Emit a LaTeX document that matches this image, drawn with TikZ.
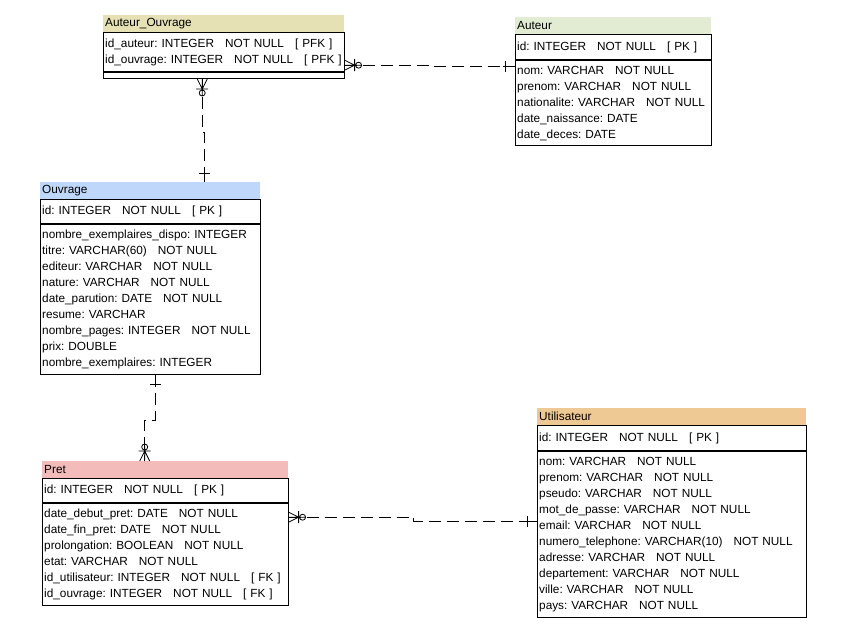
\documentclass[tikz,border=0pt]{standalone}
\usepackage{fontspec}
\setmainfont{Liberation Sans}
\usetikzlibrary{positioning, calc}
\definecolor{aohead}{HTML}{E5E1B5}
\definecolor{authead}{HTML}{E1ECD3}
\definecolor{ouvhead}{HTML}{BFD7FB}
\definecolor{prethead}{HTML}{F4BBBB}
\definecolor{utihead}{HTML}{EFC994}
\newcommand{\colgap}{\hspace{11pt}}
\tikzset{%
	every node/.style={font=\fontsize{11.8}{16}\selectfont, execute at begin node=\frenchspacing},
	head/.style={rectangle, inner xsep=2pt, inner ysep=0pt, minimum height=17pt, align=left},
	keys/.style={draw, rectangle, line width=0.8pt, inner xsep=2pt, inner ysep=1pt, align=left},
	rel/.style={draw, line width=0.8pt, dash pattern=on 12pt off 6pt},
	manyopt/.pic={\draw[solid, line width=0.8pt] (0,5) -- (10,0) -- (0,-5) (0,0) -- (17,0)
		(10,6) -- (10,-6) (14,0) circle (3);},
	onebar/.pic={\draw[solid, line width=0.8pt] (0,0) -- (12,0) (9,5.5) -- (9,-5.5);}
}

\begin{document}
\begin{tikzpicture}[x=1pt, y=1pt]
	\path[use as bounding box, fill=white] (0,0) rectangle (842,-630);

	%Auteur_Ouvrage
	\node[head, fill=aohead, text width=237pt, anchor=north west] (ao-head) at (103,-15) {Auteur\_Ouvrage};
	\node[keys, text width=237pt, minimum height=39pt, below=0pt of ao-head] (ao-keys)
		{id\_auteur: INTEGER\colgap NOT NULL\colgap [ PFK ]\\
		 id\_ouvrage: INTEGER\colgap NOT NULL\colgap [ PFK ]};
	\node[keys, text width=237pt, minimum height=6pt, below=0pt of ao-keys] (ao-attrs) {};

	%Auteur
	\node[head, fill=authead, text width=192pt, anchor=north west] (aut-head) at (515,-17) {Auteur};
	\node[keys, text width=192pt, minimum height=25pt, below=0pt of aut-head] (aut-keys)
		{id: INTEGER\colgap NOT NULL\colgap [ PK ]};
	\node[keys, text width=192pt, minimum height=85pt, below=0pt of aut-keys] (aut-attrs)
		{nom: VARCHAR\colgap NOT NULL\\
		 prenom: VARCHAR\colgap NOT NULL\\
		 nationalite: VARCHAR\colgap NOT NULL\\
		 date\_naissance: DATE\\
		 date\_deces: DATE};

	%Ouvrage
	\node[head, fill=ouvhead, text width=216pt, anchor=north west] (ouv-head) at (40,-182) {Ouvrage};
	\node[keys, text width=216pt, minimum height=24pt, below=0pt of ouv-head] (ouv-keys)
		{id: INTEGER\colgap NOT NULL\colgap [ PK ]};
	\node[keys, text width=216pt, minimum height=150pt, below=0pt of ouv-keys] (ouv-attrs)
		{nombre\_exemplaires\_dispo: INTEGER\\
		 titre: VARCHAR(60)\colgap NOT NULL\\
		 editeur: VARCHAR\colgap NOT NULL\\
		 nature: VARCHAR\colgap NOT NULL\\
		 date\_parution: DATE\colgap NOT NULL\\
		 resume: VARCHAR\\
		 nombre\_pages: INTEGER\colgap NOT NULL\\
		 prix: DOUBLE\\
		 nombre\_exemplaires: INTEGER};

	%Pret
	\node[head, fill=prethead, text width=242pt, anchor=north west] (pret-head) at (42,-461) {Pret};
	\node[keys, text width=242pt, minimum height=24pt, below=0pt of pret-head] (pret-keys)
		{id: INTEGER\colgap NOT NULL\colgap [ PK ]};
	\node[keys, text width=242pt, minimum height=102pt, below=0pt of pret-keys] (pret-attrs)
		{date\_debut\_pret: DATE\colgap NOT NULL\\
		 date\_fin\_pret: DATE\colgap NOT NULL\\
		 prolongation: BOOLEAN\colgap NOT NULL\\
		 etat: VARCHAR\colgap NOT NULL\\
		 id\_utilisateur: INTEGER\colgap NOT NULL\colgap [ FK ]\\
		 id\_ouvrage: INTEGER\colgap NOT NULL\colgap [ FK ]};

	%Utilisateur
	\node[head, fill=utihead, text width=265pt, anchor=north west] (uti-head) at (537,-408) {Utilisateur};
	\node[keys, text width=265pt, minimum height=25pt, below=0pt of uti-head] (uti-keys)
		{id: INTEGER\colgap NOT NULL\colgap [ PK ]};
	\node[keys, text width=265pt, minimum height=166pt, below=0pt of uti-keys] (uti-attrs)
		{nom: VARCHAR\colgap NOT NULL\\
		 prenom: VARCHAR\colgap NOT NULL\\
		 pseudo: VARCHAR\colgap NOT NULL\\
		 mot\_de\_passe: VARCHAR\colgap NOT NULL\\
		 email: VARCHAR\colgap NOT NULL\\
		 numero\_telephone: VARCHAR(10)\colgap NOT NULL\\
		 adresse: VARCHAR\colgap NOT NULL\\
		 departement: VARCHAR\colgap NOT NULL\\
		 ville: VARCHAR\colgap NOT NULL\\
		 pays: VARCHAR\colgap NOT NULL};

	%relation ends
	\coordinate (ao-r) at ([yshift=7pt]ao-keys.south east);
	\coordinate (aut-l) at ([yshift=-6pt]aut-attrs.north west);
	\coordinate (ao-b) at ([xshift=-21.5pt]ao-attrs.south);
	\coordinate (ouv-t) at ([xshift=54pt]ouv-head.north);
	\coordinate (ouv-b) at ([xshift=5pt]ouv-attrs.south);
	\coordinate (pret-t) at ([xshift=-20.5pt]pret-head.north);
	\coordinate (pret-r) at ([yshift=-14pt]pret-attrs.north east);
	\coordinate (uti-l) at ([yshift=-70pt]uti-attrs.north west);

	%relations
	\draw[rel] (ao-r) -- ++(86,0) |- (aut-l);
	\draw[rel] (ao-b) -- ++(0,-53) -| (ouv-t);
	\draw[rel] (ouv-b) -- ++(0,-45) -| (pret-t);
	\draw[rel] (pret-r) -- ++(125,0) |- (uti-l);

	\pic[rotate=0] at (ao-r) {manyopt};
	\pic[rotate=180] at (aut-l) {onebar};
	\pic[rotate=-90] at (ao-b) {manyopt};
	\pic[rotate=90] at (ouv-t) {onebar};
	\pic[rotate=-90] at (ouv-b) {onebar};
	\pic[rotate=90] at (pret-t) {manyopt};
	\pic[rotate=0] at (pret-r) {manyopt};
	\pic[rotate=180] at (uti-l) {onebar};

\end{tikzpicture}
\end{document}
